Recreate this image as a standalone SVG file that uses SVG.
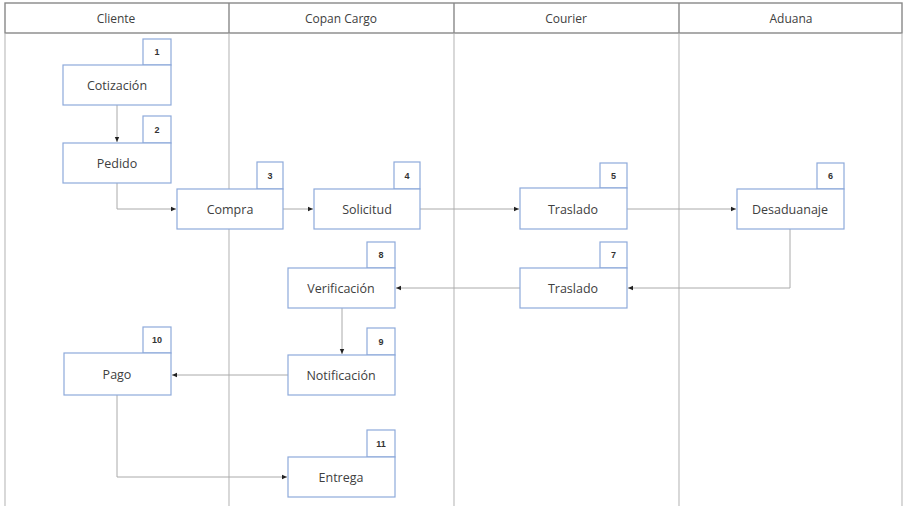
<svg xmlns="http://www.w3.org/2000/svg" width="904" height="506" viewBox="0 0 904 506">
<style>
.hdr{fill:none;stroke:#888;stroke-width:1.4}
.lane{stroke:#c4c4c4;stroke-width:1.3}
.box{fill:#fff;stroke:#8eaadb;stroke-width:1.2}
.t{font-family:"Open Sans","Liberation Sans",sans-serif;font-size:12.5px;fill:#404040;text-anchor:middle;dominant-baseline:central}
.n{font-family:"Liberation Sans",sans-serif;font-size:9px;font-weight:bold;fill:#333;text-anchor:middle;dominant-baseline:central}
.h{font-family:"Open Sans","Liberation Sans",sans-serif;font-size:12px;fill:#404040;text-anchor:middle;dominant-baseline:central}
.c{fill:none;stroke:#aaa;stroke-width:1;marker-end:url(#a)}
</style>
<defs>
<marker id="a" markerWidth="6" markerHeight="6" refX="5" refY="3" orient="auto" markerUnits="userSpaceOnUse">
<path d="M0,0.8 L5,3 L0,5.2 Z" fill="#222"/>
</marker>
</defs>
<rect width="904" height="506" fill="#fff"/>
<g id="lanes">
<line class="lane" x1="229" y1="34" x2="229" y2="506"/>
<line class="lane" x1="454" y1="34" x2="454" y2="506"/>
<line class="lane" x1="679" y1="34" x2="679" y2="506"/>
<line class="lane" x1="5" y1="34" x2="5" y2="506"/>
<line class="lane" x1="902" y1="34" x2="902" y2="506"/>
<rect class="hdr" x="5" y="3" width="897" height="30"/>
<line class="hdr" x1="229" y1="3" x2="229" y2="33"/>
<line class="hdr" x1="454" y1="3" x2="454" y2="33"/>
<line class="hdr" x1="679" y1="3" x2="679" y2="33"/>
<text class="h" x="116" y="18">Cliente</text>
<text class="h" x="341" y="18">Copan Cargo</text>
<text class="h" x="566" y="18">Courier</text>
<text class="h" x="791" y="18">Aduana</text>
</g>
<g id="connectors">
<path class="c" d="M117,105 V142"/>
<path class="c" d="M117,183 V209 H176"/>
<path class="c" d="M283,209 H313"/>
<path class="c" d="M420,209 H519"/>
<path class="c" d="M627,209 H736"/>
<path class="c" d="M790,229 V288 H628"/>
<path class="c" d="M520,288 H396"/>
<path class="c" d="M342,308 V354"/>
<path class="c" d="M288,375 H172"/>
<path class="c" d="M117,395 V477 H287"/>
</g>
<g id="n1"><rect class="box" x="143" y="39" width="28" height="26"/><text class="n" x="157" y="52">1</text><rect class="box" x="63" y="65" width="108" height="40"/><text class="t" x="117" y="85">Cotización</text></g>
<g id="n2"><rect class="box" x="143" y="116" width="28" height="27"/><text class="n" x="157" y="129.5">2</text><rect class="box" x="63" y="143" width="108" height="40"/><text class="t" x="117" y="163">Pedido</text></g>
<g id="n3"><rect class="box" x="257" y="162" width="26" height="27"/><text class="n" x="270" y="175.5">3</text><rect class="box" x="177" y="189" width="106" height="40"/><text class="t" x="230" y="209">Compra</text></g>
<g id="n4"><rect class="box" x="394" y="162" width="26" height="27"/><text class="n" x="407" y="175.5">4</text><rect class="box" x="314" y="189" width="106" height="40"/><text class="t" x="367" y="209">Solicitud</text></g>
<g id="n5"><rect class="box" x="600" y="163" width="27" height="25"/><text class="n" x="613.5" y="175.5">5</text><rect class="box" x="520" y="188" width="107" height="41"/><text class="t" x="573" y="209">Traslado</text></g>
<g id="n6"><rect class="box" x="817" y="163" width="27" height="26"/><text class="n" x="830.5" y="176">6</text><rect class="box" x="737" y="189" width="107" height="40"/><text class="t" x="790" y="209">Desaduanaje</text></g>
<g id="n7"><rect class="box" x="600" y="242" width="27" height="26"/><text class="n" x="613.5" y="255">7</text><rect class="box" x="520" y="268" width="107" height="40"/><text class="t" x="573" y="288">Traslado</text></g>
<g id="n8"><rect class="box" x="367" y="242" width="28" height="26"/><text class="n" x="381" y="255">8</text><rect class="box" x="288" y="268" width="107" height="40"/><text class="t" x="341" y="288">Verificación</text></g>
<g id="n9"><rect class="box" x="367" y="328" width="28" height="27"/><text class="n" x="381" y="341.5">9</text><rect class="box" x="288" y="355" width="107" height="40"/><text class="t" x="341" y="375">Notificación</text></g>
<g id="n10"><rect class="box" x="143" y="327" width="28" height="26"/><text class="n" x="157" y="340">10</text><rect class="box" x="64" y="353" width="107" height="42"/><text class="t" x="117" y="374">Pago</text></g>
<g id="n11"><rect class="box" x="367" y="430" width="28" height="27"/><text class="n" x="381" y="443.5">11</text><rect class="box" x="288" y="457" width="107" height="40"/><text class="t" x="341" y="477">Entrega</text></g>
</svg>
